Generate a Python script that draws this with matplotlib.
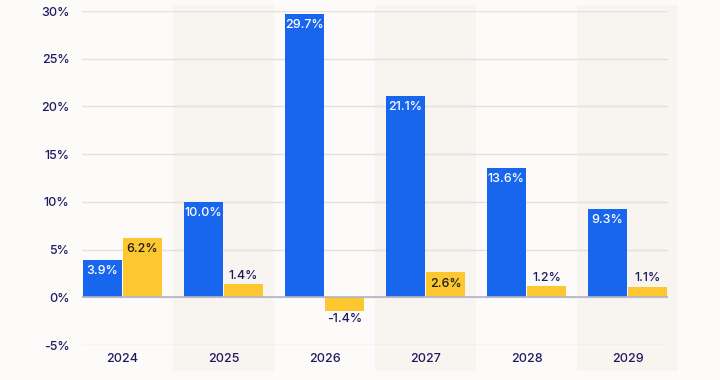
import numpy as np
import matplotlib.pyplot as plt

years = ['2024', '2025', '2026', '2027', '2028', '2029']
blue_vals = [3.9, 10.0, 29.7, 21.1, 13.6, 9.3]
yellow_vals = [6.2, 1.4, -1.4, 2.6, 1.2, 1.1]
yticks = [-5, 0, 5, 10, 15, 20, 25, 30]

bg = '#fcfbf9'
band = '#f8f4f0'
blue = '#1866ee'
yellow = '#fdc72f'
navy = '#1e1a5e'

plt.rcParams['font.family'] = ['Inter', 'DejaVu Sans']

fig = plt.figure(figsize=(7.2, 3.8), dpi=100, facecolor=bg)
ax = fig.add_axes([82/720, 1 - 345/380, 586/720, 334/380])
ax.set_facecolor('none')

x = np.arange(len(years))
w = 0.39

# shaded bands behind every other year
for i in x[1::2]:
    ax.bar(i, 38.3, bottom=-7.7, width=1.0, color=band, zorder=0, clip_on=False)

for y in yticks:
    ax.axhline(y, color='#e3e1df', lw=1, zorder=1)
ax.axhline(0, color='#b3b4c6', lw=1.2, zorder=3)

ax.bar(x - 0.2, blue_vals, width=w, color=blue, zorder=2)
ax.bar(x + 0.2, yellow_vals, width=w, color=yellow, zorder=2)

for i, v in enumerate(blue_vals):
    ax.annotate(f'{v:.1f}%', (i - 0.2, v), xytext=(0, -8), textcoords='offset points',
                ha='center', va='center', color='white', fontsize=9, fontweight='medium')
for i, v in enumerate(yellow_vals):
    if v >= 2:
        off, col = -8, '#1a1a1a'
    elif v >= 0:
        off, col = 6, navy
    else:
        off, col = -6, navy
    ax.annotate(f'{v:.1f}%', (i + 0.2, v), xytext=(0, off), textcoords='offset points',
                ha='center', va='center', color=col, fontsize=9, fontweight='medium')

ax.set_xlim(-0.4, 5.4)
ax.set_ylim(-5, 30)
ax.set_yticks(yticks)
ax.set_yticklabels([f'{t}%' for t in yticks], fontweight='medium')
ax.set_xticks(x)
ax.set_xticklabels(years, fontweight='medium')
ax.tick_params(length=0, labelsize=9, labelcolor=navy)
ax.tick_params(axis='y', pad=9)
ax.tick_params(axis='x', pad=6)
for s in ax.spines.values():
    s.set_visible(False)

fig.savefig('out.png', dpi=100, facecolor=bg)
